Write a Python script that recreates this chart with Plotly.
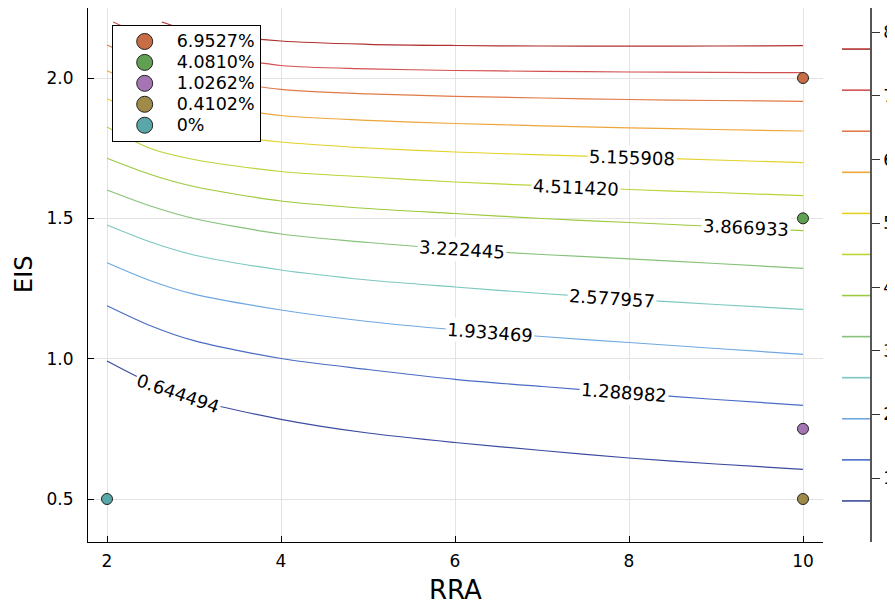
import plotly.graph_objects as go

# ---------------- data ----------------
levels = [0.644494, 1.288982, 1.933469, 2.577957, 3.222445, 3.866933,
          4.511420, 5.155908, 5.800396, 6.444884, 7.089372, 7.733860]
z_max = 8.378424

x_std = [2, 2.5, 3, 4, 5, 6, 7, 8, 9, 10]
eis_0644 = [0.9917, 0.9133, 0.8545, 0.7840, 0.7351, 0.7013, 0.6728, 0.6461, 0.6247, 0.6058]
eis_1289 = [1.1887, 1.1174, 1.0640, 1.0006, 0.9614, 0.9265, 0.9008, 0.8777, 0.8545, 0.8338]
eis_1933 = [1.3419, 1.2778, 1.2297, 1.1734, 1.1324, 1.1028, 1.0790, 1.0576, 1.0362, 1.0155]
eis_2578 = [1.4762, 1.4157, 1.3694, 1.3159, 1.2803, 1.2553, 1.2322, 1.2115, 1.1930, 1.1759]
eis_3222 = [1.6010, 1.5439, 1.4994, 1.4442, 1.4139, 1.3900, 1.3711, 1.3558, 1.3391, 1.3220]
eis_3867 = [1.7139, 1.6562, 1.6134, 1.5618, 1.5350, 1.5172, 1.4994, 1.4851, 1.4709, 1.4559]
eis_4511 = [1.8254, 1.7488, 1.7096, 1.6669, 1.6473, 1.6294, 1.6163, 1.6027, 1.5920, 1.5806]
eis_5156 = [1.9262, 1.8610, 1.8147, 1.7720, 1.7506, 1.7363, 1.7264, 1.7175, 1.7078, 1.6982]
eis_5800 = [2.0260, 1.9608, 1.9145, 1.8664, 1.8493, 1.8379, 1.8297, 1.8226, 1.8165, 1.8112]
eis_6445 = [2.1176, 2.0534, 2.0071, 1.9597, 1.9437, 1.9348, 1.9287, 1.9234, 1.9198, 1.9170]
x_7089 = [2.07, 2.5, 3, 4, 5, 6, 7, 8, 9, 10]
eis_7089 = [2.1995, 2.1425, 2.0962, 2.0445, 2.0328, 2.0267, 2.0239, 2.0214, 2.0200, 2.0189]
x_7734 = [2.63, 3, 4, 5, 6, 7, 8, 9, 10]
eis_7734 = [2.1995, 2.1657, 2.1318, 2.1201, 2.1158, 2.1140, 2.1133, 2.1140, 2.1151]

line_x = [x_std] * 10 + [x_7089, x_7734]
line_y = [eis_0644, eis_1289, eis_1933, eis_2578, eis_3222, eis_3867,
          eis_4511, eis_5156, eis_5800, eis_6445, eis_7089, eis_7734]

label_text = ["0.644494", "1.288982", "1.933469", "2.577957",
              "3.222445", "3.866933", "4.511420", "5.155908"]
label_x = [2.82, 7.94, 6.405, 7.81, 6.08, 9.34, 7.39, 8.03]
label_y = [0.8755, 0.879, 1.0932, 1.2154, 1.3886, 1.4659, 1.6109, 1.7171]
label_angle = [19, 4.3, 4.4, 3.8, 3.5, 2.8, 2.5, 1.8]

pt_names = ["6.9527%", "4.0810%", "1.0262%", "0.4102%", "0%"]
pt_x = [10, 10, 10, 10, 2]
pt_y = [2.0, 1.5, 0.75, 0.5, 0.5]

x_ticks = [2, 4, 6, 8, 10]
y_ticks = [0.5, 1.0, 1.5, 2.0]
y_ticktext = ["0.5", "1.0", "1.5", "2.0"]
cb_ticks = [1, 2, 3, 4, 5, 6, 7, 8]

# ---------------- styles ----------------
level_colors = ["#3b4ba0", "#4b6cc4", "#6fa8e0", "#7cc8c0", "#86c27a", "#9dc93e",
                "#bcd43a", "#e2d22a", "#eea63a", "#e07a48", "#d35050", "#b03030"]
pt_colors = ["#c96d47", "#5fa052", "#a575b3", "#a08a48", "#5aa7aa"]
FONT = "DejaVu Sans"

fig = go.Figure()

for lv, xs, ys, c in zip(levels, line_x, line_y, level_colors):
    fig.add_trace(go.Scatter(x=xs, y=ys, mode="lines", showlegend=False,
                             line=dict(color=c, width=1.2, shape="spline", smoothing=0.8),
                             hoverinfo="skip"))

# colorbar lines
for lv, c in zip(levels, level_colors):
    fig.add_trace(go.Scatter(x=[0, 1], y=[lv, lv], xaxis="x2", yaxis="y2", mode="lines",
                             showlegend=False, line=dict(color=c, width=1.6), hoverinfo="skip"))

# points (plot)
for nm, px, py, c in zip(pt_names, pt_x, pt_y, pt_colors):
    fig.add_trace(go.Scatter(x=[px], y=[py], mode="markers", name=nm, showlegend=False,
                             marker=dict(color=c, size=11, line=dict(color="#222222", width=1))))
# legend entries
for nm, c in zip(pt_names, pt_colors):
    fig.add_trace(go.Scatter(x=[None], y=[None], mode="markers",
                             name='<span style="font-size:17.5px">' + nm + '</span>',
                             marker=dict(color=c, size=16, line=dict(color="#222222", width=1))))

annotations = []
for t, lx, ly, ang in zip(label_text, label_x, label_y, label_angle):
    annotations.append(dict(x=lx, y=ly, xref="x", yref="y", text=t, showarrow=False,
                            textangle=ang, bgcolor="white", borderpad=1,
                            font=dict(family=FONT, size=18, color="black")))
annotations.append(dict(x=0.47, y=-0.09, xref="paper", yref="paper", text="RRA",
                        showarrow=False, yanchor="middle",
                        font=dict(family=FONT, size=26, color="black")))
annotations.append(dict(x=-0.0818, y=0.5, xref="paper", yref="paper", text="EIS",
                        showarrow=False, textangle=-90, xanchor="center",
                        borderpad=0, font=dict(family=FONT, size=24, color="black")))

# page body has an 8px margin, so the figure is sized 8px smaller and shifted
fig.update_layout(
    width=887, height=596,
    margin=dict(l=80, r=25, t=0, b=62, autoexpand=False),
    plot_bgcolor="white", paper_bgcolor="white",
    font=dict(family=FONT, size=17, color="black"),
    xaxis=dict(domain=[0, 0.9399], range=[1.7816, 10.2299], tickvals=x_ticks,
               showline=True, linecolor="black", linewidth=1, ticks="inside", ticklen=6,
               tickcolor="black", showgrid=True, gridcolor="#e3e3e3", zeroline=False,
               tickfont=dict(size=17), ticklabelstandoff=4, automargin=False),
    yaxis=dict(range=[0.3468, 2.2494], tickvals=y_ticks, ticktext=y_ticktext,
               showline=True, linecolor="black", linewidth=1, ticks="inside", ticklen=6,
               tickcolor="black", showgrid=True, gridcolor="#e3e3e3", zeroline=False,
               tickfont=dict(size=17), ticklabelstandoff=10, automargin=False),
    xaxis2=dict(domain=[0.9642, 1.0], range=[0, 1], visible=False, anchor="y2",
                automargin=False),
    yaxis2=dict(anchor="x2", side="right", range=[0, z_max], tickvals=cb_ticks,
                showline=True, linecolor="#555555", linewidth=1.5, ticks="outside",
                ticklen=8, tickcolor="#333333", showgrid=False, zeroline=False,
                tickfont=dict(size=17), automargin=False),
    legend=dict(x=0.0303, y=1 - 17 / 534, xanchor="left", yanchor="top", bgcolor="white",
                bordercolor="black", borderwidth=1, itemwidth=54,
                font=dict(family=FONT, size=13.8, color="black"), tracegroupgap=0),
    annotations=annotations,
)

fig.write_html("out.html")
